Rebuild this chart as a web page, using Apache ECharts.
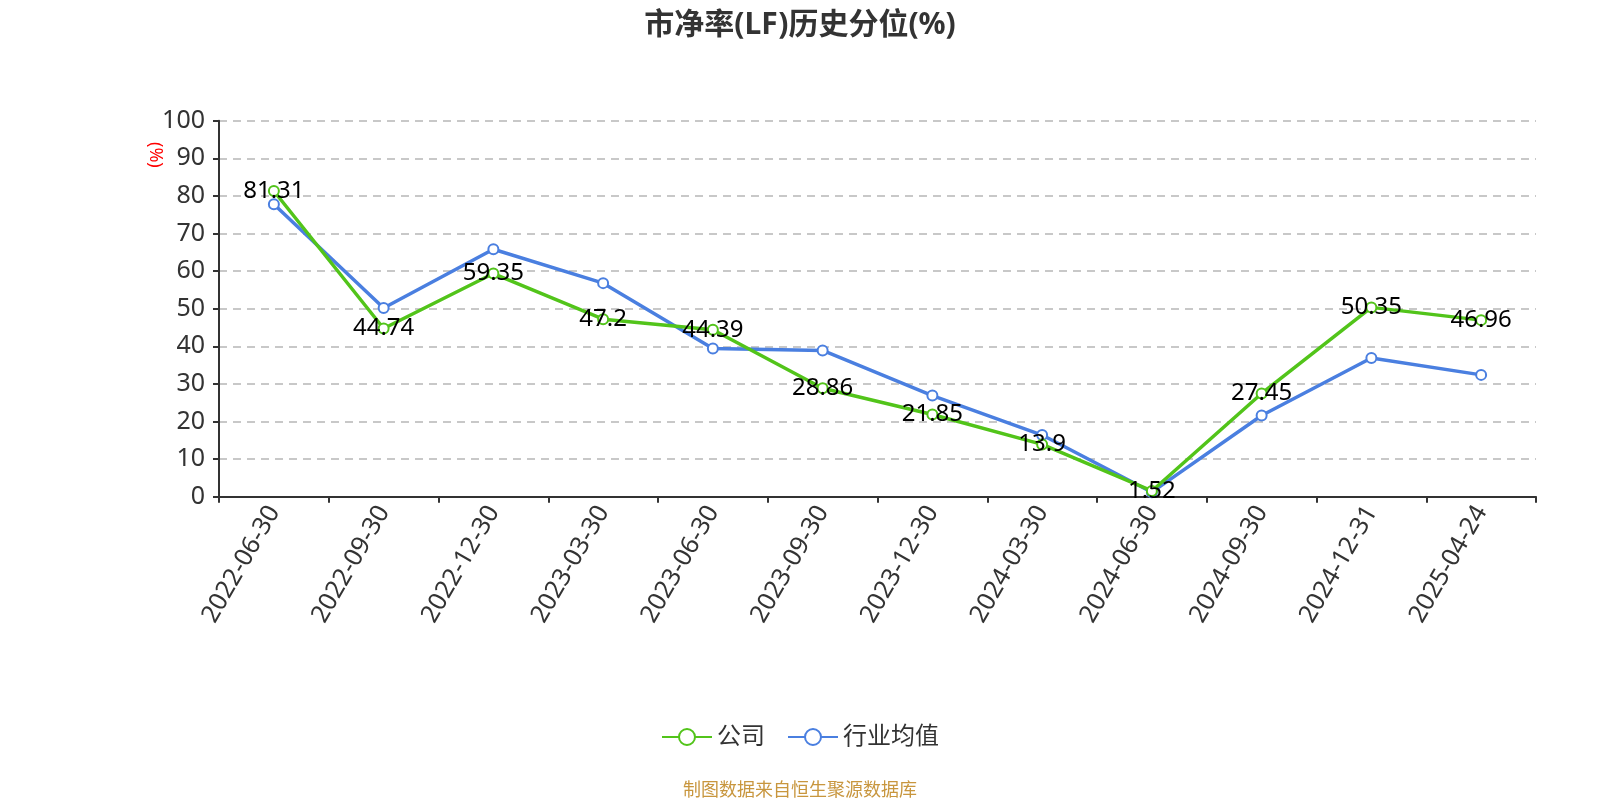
<!DOCTYPE html>
<html>
<head>
<meta charset="utf-8">
<script src="https://cdn.jsdelivr.net/npm/echarts@6/dist/echarts.min.js"></script>
<style>
html,body{margin:0;padding:0;background:#fff;}
#chart{width:1600px;height:800px;}
</style>
</head>
<body>
<div id="chart"></div>
<script>
var categories = ['2022-06-30','2022-09-30','2022-12-30','2023-03-30','2023-06-30','2023-09-30','2023-12-30','2024-03-30','2024-06-30','2024-09-30','2024-12-31','2025-04-24'];
var companyValues = [81.31, 44.74, 59.35, 47.2, 44.39, 28.86, 21.85, 13.9, 1.52, 27.45, 50.35, 46.96];
var industryValues = [77.8, 50.2, 65.8, 56.8, 39.4, 38.9, 26.9, 16.4, 1.2, 21.6, 36.9, 32.4];
var yTicks = {min: 0, max: 100, interval: 10};
var seriesNames = ['公司', '行业均值'];

var chart = echarts.init(document.getElementById('chart'));
var font = '"Noto Sans", "Noto Sans CJK SC", sans-serif';
chart.setOption({
  animation: false,
  textStyle: {fontFamily: font},
  title: {
    text: '市净率(LF)历史分位(%)',
    left: 'center',
    top: 5,
    textStyle: {fontSize: 30, fontWeight: 'bold', color: '#333', fontFamily: font}
  },
  legend: {
    data: seriesNames,
    bottom: 46,
    left: 'center',
    itemWidth: 50,
    itemHeight: 20,
    itemGap: 22,
    textStyle: {fontSize: 24, color: '#333', fontFamily: font}
  },
  grid: {left: 219, right: 64, top: 120.7, bottom: 303.3, containLabel: false},
  xAxis: {
    type: 'category',
    data: categories,
    boundaryGap: true,
    axisLine: {lineStyle: {color: '#333', width: 2}},
    axisTick: {show: true, alignWithLabel: false, length: 6, lineStyle: {color: '#333', width: 2}},
    axisLabel: {rotate: 60, interval: 0, fontSize: 25, color: '#333', margin: 11, fontFamily: font}
  },
  yAxis: {
    type: 'value',
    min: yTicks.min,
    max: yTicks.max,
    interval: yTicks.interval,
    axisLine: {show: true, lineStyle: {color: '#333', width: 2}},
    axisTick: {show: true, length: 6, lineStyle: {color: '#333', width: 2}},
    axisLabel: {fontSize: 25, color: '#333', margin: 14, fontFamily: font},
    splitLine: {show: true, lineStyle: {type: [8, 6], color: '#c8c8c8', width: 2}}
  },
  graphic: [{
    type: 'text',
    left: 146,
    top: 142,
    rotation: -Math.PI / 2,
    style: {text: '(%)', fill: '#ff0000', fontSize: 18, fontFamily: font}
  }, {
    type: 'text',
    left: 'center',
    top: 782,
    style: {text: '制图数据来自恒生聚源数据库', fill: '#c8963e', fontSize: 18, fontFamily: font}
  }],
  series: [{
    name: seriesNames[0],
    type: 'line',
    data: companyValues,
    symbol: 'emptyCircle',
    symbolSize: 10,
    color: '#52c41a',
    lineStyle: {width: 3.5, color: '#52c41a'},
    itemStyle: {color: '#52c41a', borderWidth: 2},
    label: {show: true, position: 'inside', fontSize: 24, color: '#000', fontFamily: font},
    z: 3
  }, {
    name: seriesNames[1],
    type: 'line',
    data: industryValues,
    symbol: 'emptyCircle',
    symbolSize: 10,
    color: '#4a7fe0',
    lineStyle: {width: 3.5, color: '#4a7fe0'},
    itemStyle: {color: '#4a7fe0', borderWidth: 2},
    z: 2
  }]
});
</script>
</body>
</html>
